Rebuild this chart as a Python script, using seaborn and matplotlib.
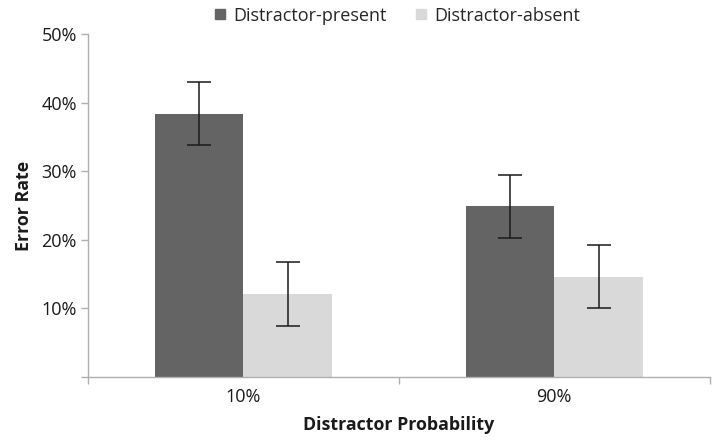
import numpy as np
import pandas as pd
import seaborn as sns
import matplotlib.pyplot as plt
from matplotlib.lines import Line2D

# values
probabilities = ["10%", "90%"]
conditions = ["Distractor-present", "Distractor-absent"]
present_rate = [0.384, 0.249]
absent_rate = [0.121, 0.146]
present_err = [0.046, 0.046]
absent_err = [0.046, 0.046]

df = pd.DataFrame({
    "prob": probabilities * 2,
    "cond": [conditions[0]] * 2 + [conditions[1]] * 2,
    "rate": present_rate + absent_rate,
    "err": present_err + absent_err,
})

sns.set_style("white")
plt.rcParams["font.family"] = ["Open Sans", "DejaVu Sans"]

colors = {"Distractor-present": "#646464", "Distractor-absent": "#d9d9d9"}

fig = plt.figure(figsize=(7.14, 4.44), dpi=100)
ax = fig.add_axes([0.123, 0.151, 0.871, 0.772])

sns.barplot(data=df, x="prob", y="rate", hue="cond", order=probabilities,
            hue_order=conditions, palette=colors, width=0.57, gap=0,
            errorbar=None, saturation=1, legend=False, linewidth=0, ax=ax)

# error bars at the bar centres
for bars, cond in zip(ax.containers, conditions):
    sub = df[df["cond"] == cond].set_index("prob").loc[probabilities]
    xs = [b.get_x() + b.get_width() / 2 for b in bars]
    ax.errorbar(xs, sub["rate"], yerr=sub["err"], fmt="none", ecolor="#1a1a1a",
                elinewidth=1.1, capsize=8.5, capthick=1.1)

ax.set_xlim(-0.5, 1.5)
ax.set_ylim(0, 0.5)
ax.set_yticks([0, 0.1, 0.2, 0.3, 0.4, 0.5])
ax.set_yticklabels(["", "10%", "20%", "30%", "40%", "50%"])
ax.set_xticks([-0.5, 0.5, 1.5], minor=True)
ax.tick_params(which="both", bottom=True, left=True)
ax.tick_params(axis="x", which="major", length=0, labelsize=13, colors="#1a1a1a", pad=8)
ax.tick_params(axis="x", which="minor", length=5, width=1, color="#b0b0b0", direction="out")
ax.tick_params(axis="y", length=5, width=1, color="#b0b0b0", labelsize=13,
               labelcolor="#1a1a1a", direction="out", pad=3)

for side in ["top", "right"]:
    ax.spines[side].set_visible(False)
for side in ["left", "bottom"]:
    ax.spines[side].set_color("#b0b0b0")
    ax.spines[side].set_linewidth(1)

ax.set_xlabel("Distractor Probability", fontsize=12.8, fontweight="bold", color="#1a1a1a", labelpad=7)
ax.set_ylabel("Error Rate", fontsize=12.8, fontweight="bold", color="#1a1a1a", labelpad=6)

handles = [Line2D([], [], marker="s", linestyle="none", markersize=7.5,
                  markerfacecolor=colors[c], markeredgecolor=colors[c]) for c in conditions]
fig.legend(handles, conditions, loc="center", bbox_to_anchor=(0.555, 0.965), ncol=2,
           frameon=False, fontsize=13, handletextpad=0.35, columnspacing=1.5,
           handlelength=0.8)

fig.savefig("out.png", dpi=100)
